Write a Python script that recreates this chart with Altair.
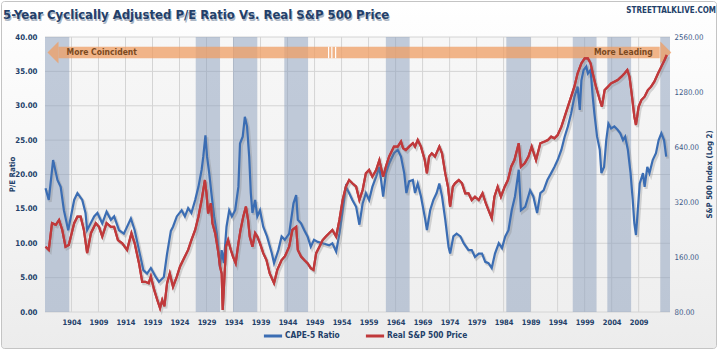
import altair as alt
import pandas as pd

# ---------------- data ----------------
cape_year = [1899.2, 1899.8, 1900.6, 1901.4, 1902.0, 1902.6, 1903.4, 1904.5, 1905.1, 1906.0,
             1906.6, 1906.9, 1908.2, 1908.8, 1909.7, 1910.5, 1911.3, 1911.9, 1912.8, 1913.7,
             1915.0, 1915.7, 1916.5, 1917.3, 1918.0, 1918.7, 1919.6, 1920.2, 1921.1, 1921.7,
             1922.4, 1922.8, 1923.5, 1924.4, 1925.0, 1925.6, 1926.2, 1926.9, 1927.5, 1928.1,
             1928.4, 1928.8, 1929.1, 1929.5, 1929.9, 1930.4, 1930.9, 1931.5, 1931.8, 1932.2,
             1932.7, 1933.2, 1933.7, 1934.3, 1934.9, 1935.2, 1935.7, 1936.1, 1936.5, 1936.9,
             1937.2, 1937.5, 1938.0, 1938.4, 1938.9, 1939.5, 1940.2, 1941.1, 1941.5, 1942.3,
             1942.9, 1943.5, 1944.3, 1945.1, 1945.6, 1945.9, 1946.5, 1947.1, 1947.7, 1948.3,
             1948.9, 1949.6, 1950.5, 1951.7, 1952.3, 1953.0, 1953.6, 1954.2, 1954.8, 1955.4,
             1956.0, 1956.7, 1957.3, 1957.9, 1958.5, 1959.1, 1959.7, 1960.4, 1961.0, 1961.7,
             1962.2, 1962.8, 1963.7, 1964.4, 1965.0, 1965.6, 1966.0, 1966.5, 1967.2, 1967.6,
             1968.1, 1968.7, 1969.5, 1969.8, 1970.4, 1971.0, 1971.6, 1972.1, 1972.6, 1973.2,
             1973.8, 1974.1, 1974.7, 1975.3, 1976.0, 1976.6, 1977.5, 1978.1, 1978.7, 1979.4,
             1980.0, 1980.6, 1981.2, 1981.8, 1982.4, 1983.1, 1983.7, 1984.3, 1984.9, 1985.5,
             1986.1, 1986.8, 1987.2, 1988.0, 1988.9, 1989.5, 1990.2, 1990.8, 1991.4, 1992.1,
             1992.8, 1993.4, 1994.0, 1994.7, 1995.3, 1995.9, 1996.5, 1997.1, 1997.7, 1998.1,
             1998.4, 1998.8, 1999.3, 1999.6, 2000.1, 2000.5, 2000.8, 2001.3, 2001.8, 2002.1,
             2002.6, 2003.0, 2003.4, 2003.9, 2004.5, 2005.1, 2005.6, 2006.1, 2006.5, 2007.0,
             2007.5, 2007.9, 2008.2, 2008.5, 2008.8, 2009.2, 2009.8, 2010.1, 2010.6, 2011.0,
             2011.6, 2012.2, 2012.7, 2013.2, 2013.7, 2014.1]
cape_value = [18.0, 16.3, 22.1, 19.2, 18.2, 14.8, 11.9, 16.3, 17.3, 16.3,
              14.4, 11.9, 13.9, 14.4, 12.9, 14.6, 13.4, 13.9, 11.9, 11.4,
              13.6, 11.9, 9.0, 6.1, 5.6, 6.4, 5.1, 4.4, 5.1, 8.5,
              11.8, 12.4, 13.9, 14.8, 13.9, 15.1, 14.4, 16.3, 18.2, 20.7,
              22.6, 25.7, 22.6, 20.2, 17.3, 13.9, 11.4, 6.5, 9.0, 7.1,
              12.4, 14.8, 13.9, 14.8, 18.2, 24.5, 25.5, 28.4, 27.0, 22.6,
              17.3, 14.4, 16.3, 13.9, 14.8, 12.4, 11.0, 8.5, 7.1, 9.0,
              11.0, 10.5, 11.4, 15.8, 17.0, 13.4, 12.9, 11.9, 11.0, 9.5,
              10.5, 10.2, 10.0, 9.7, 10.0, 8.8, 11.4, 14.8, 18.2, 17.3,
              16.3, 15.3, 12.7, 15.8, 17.3, 16.3, 18.2, 19.7, 21.1, 16.8,
              20.2, 21.6, 23.1, 23.6, 22.6, 20.2, 17.3, 19.0, 19.2, 17.3,
              18.7, 16.8, 13.4, 11.9, 14.8, 16.3, 17.3, 18.7, 16.8, 13.4,
              9.5, 8.5, 11.0, 11.4, 11.0, 10.0, 9.0, 9.0, 8.0, 8.5,
              8.5, 7.3, 7.1, 6.4, 8.5, 10.0, 9.3, 11.0, 11.9, 14.8,
              16.8, 20.7, 14.8, 15.3, 17.7, 16.8, 14.4, 17.3, 17.7, 19.2,
              20.2, 21.1, 22.1, 23.6, 25.5, 27.0, 28.9, 31.3, 32.8, 29.4,
              33.7, 35.2, 35.7, 34.7, 35.2, 31.3, 28.9, 25.5, 23.6, 20.2,
              21.1, 25.0, 27.4, 26.7, 27.0, 26.5, 26.0, 25.0, 25.5, 23.6,
              20.2, 16.3, 12.9, 11.2, 14.4, 18.7, 20.2, 18.2, 21.1, 20.2,
              22.1, 23.1, 25.0, 26.0, 25.0, 22.6]

spx_year = [1899.2, 1899.8, 1900.4, 1901.1, 1901.7, 1902.3, 1902.9, 1903.5, 1904.5, 1905.1,
            1905.7, 1906.3, 1906.9, 1907.6, 1908.5, 1909.1, 1909.7, 1910.5, 1911.3, 1911.9,
            1912.6, 1913.4, 1914.3, 1915.1, 1915.7, 1916.5, 1917.1, 1917.7, 1918.3, 1918.7,
            1919.3, 1919.9, 1920.4, 1920.8, 1921.2, 1921.7, 1922.2, 1922.8, 1923.5, 1924.1,
            1925.0, 1925.6, 1926.2, 1926.9, 1927.5, 1928.1, 1928.7, 1929.0, 1929.3, 1929.8,
            1930.1, 1930.6, 1931.2, 1931.5, 1931.8, 1932.0, 1932.2, 1932.6, 1933.0, 1933.5,
            1933.9, 1934.4, 1934.9, 1935.3, 1935.8, 1936.3, 1936.7, 1937.0, 1937.5, 1938.0,
            1938.4, 1938.9, 1939.5, 1940.1, 1940.7, 1941.5, 1942.1, 1942.9, 1943.5, 1944.3,
            1944.9, 1945.6, 1945.9, 1946.5, 1947.1, 1947.7, 1948.3, 1948.8, 1949.3, 1949.9,
            1950.5, 1951.1, 1951.7, 1952.3, 1953.0, 1953.6, 1954.2, 1954.8, 1955.4, 1956.0,
            1956.7, 1957.3, 1957.9, 1958.5, 1959.1, 1959.7, 1960.4, 1961.0, 1961.7, 1962.2,
            1962.8, 1963.7, 1964.4, 1965.0, 1965.4, 1965.9, 1966.5, 1967.2, 1967.6, 1968.1,
            1968.7, 1969.4, 1969.8, 1970.2, 1970.7, 1971.3, 1972.1, 1972.6, 1973.2, 1973.7,
            1974.1, 1974.6, 1975.0, 1975.7, 1976.3, 1976.9, 1977.5, 1978.1, 1978.7, 1979.4,
            1980.1, 1980.7, 1981.2, 1981.8, 1982.3, 1982.9, 1983.5, 1984.2, 1984.8, 1985.4,
            1986.0, 1986.8, 1987.2, 1987.9, 1988.6, 1989.2, 1990.0, 1990.8, 1991.6, 1992.2,
            1992.8, 1993.4, 1994.0, 1994.7, 1995.3, 1995.9, 1996.5, 1997.1, 1997.7, 1998.4,
            1999.0, 1999.6, 2000.1, 2000.5, 2001.1, 2001.8, 2002.2, 2002.7, 2003.3, 2003.9,
            2004.5, 2005.1, 2005.8, 2006.4, 2006.9, 2007.3, 2007.7, 2008.2, 2008.5, 2009.0,
            2009.5, 2010.1, 2010.7, 2011.3, 2011.9, 2012.6, 2013.2, 2013.8, 2014.2]
spx_value = [182, 175, 245, 240, 255, 225, 182, 186, 245, 266,
             266, 225, 168, 216, 245, 234, 207, 245, 234, 234,
             198, 190, 175, 216, 190, 148, 117, 117, 115, 125,
             106, 93, 84, 93, 86, 115, 130, 110, 125, 142,
             161, 175, 198, 225, 266, 328, 422, 357, 277, 315,
             245, 216, 168, 142, 130, 82, 106, 182, 198, 175,
             161, 148, 190, 225, 266, 302, 255, 207, 182, 216,
             207, 190, 168, 154, 130, 115, 136, 154, 161, 182,
             225, 234, 175, 161, 154, 148, 139, 136, 168, 182,
             198, 207, 216, 225, 207, 255, 328, 388, 422, 405,
             388, 328, 372, 459, 479, 440, 479, 543, 440, 499,
             567, 643, 643, 685, 629, 616, 643, 671, 643, 699,
             643, 543, 459, 567, 591, 567, 643, 591, 459, 388,
             302, 388, 405, 422, 405, 357, 357, 328, 342, 328,
             357, 315, 289, 261, 342, 388, 342, 388, 422, 499,
             543, 671, 499, 521, 567, 643, 543, 671, 685, 699,
             729, 714, 744, 827, 938, 1064, 1207, 1369, 1620, 1837,
             1956, 1956, 1837, 1620, 1369, 1157, 1064, 1312, 1369, 1428,
             1458, 1489, 1553, 1620, 1689, 1553, 1259, 938, 845, 1064,
             1157, 1207, 1312, 1369, 1458, 1620, 1762, 1916, 2041]

band_start = [1899.1, 1927.0, 1933.9, 1943.4, 1962.2, 1984.5, 1996.8, 2003.2, 2013.0]
band_end = [1903.6, 1931.5, 1938.4, 1947.8, 1966.6, 1989.0, 2001.2, 2007.6, 2014.8]

year_ticks = [1904, 1909, 1914, 1919, 1924, 1929, 1934, 1939, 1944, 1949, 1954, 1959,
              1964, 1969, 1974, 1979, 1984, 1989, 1994, 1999, 2004, 2009]
pe_ticks = [0, 5, 10, 15, 20, 25, 30, 35, 40]
price_ticks = [80, 160, 320, 640, 1280, 2560]

series_names = ["CAPE-5 Ratio", "Real S&P 500 Price"]
arrow_labels = ["More Coincident", "More Leading"]
title_text = "5-Year Cyclically Adjusted P/E Ratio Vs. Real S&P 500 Price"
site_text = "STREETTALKLIVE.COM"

# ---------------- styling ----------------
W, H = 625, 275
X_DOMAIN = [1899.1, 2014.8]
BLUE = "#3b6db3"
RED = "#c0393b"
NAVY = "#233f69"
GRID = "#d4d4d4"
BAND = "#8a9dbb"
ORANGE = "#ef9e63"
BROWN = "#7b4a1f"
FONT = "Liberation Sans Narrow, Arial Narrow, DejaVu Sans Condensed, sans-serif"

xs = alt.Scale(domain=X_DOMAIN, nice=False, zero=False)
pes = alt.Scale(domain=[0, 40], nice=False)
pxs = alt.Scale(type="log", base=2, domain=[80, 2560], nice=False)
cs = alt.Scale(domain=series_names, range=[BLUE, RED])


def X(f):
    return alt.X(f, scale=xs)


def Y(f):
    return alt.Y(f, scale=pes)


cape = pd.DataFrame({"year": cape_year, "value": cape_value, "series": series_names[0]})
spx = pd.DataFrame({"year": spx_year, "value": spx_value, "series": series_names[1]})
one = pd.DataFrame({"k": [0]})

frame_fill = alt.Gradient(gradient="linear", x1=0, y1=0, x2=0, y2=1,
                          stops=[alt.GradientStop(color="#ffffff", offset=0),
                                 alt.GradientStop(color="#ececec", offset=1)])
plot_fill = alt.Gradient(gradient="linear", x1=0, y1=0, x2=0, y2=1,
                         stops=[alt.GradientStop(color="#f7f7f7", offset=0),
                                alt.GradientStop(color="#efefef", offset=1)])

AX = dict(labelFont=FONT, ticks=False, domain=False, grid=False, zindex=1, labelOverlap=False)
legend = alt.Legend(orient="none", legendX=217, legendY=288, direction="horizontal", title=None,
                    symbolType="stroke", symbolStrokeWidth=3, symbolSize=330,
                    labelFont=FONT, labelFontSize=8.3, labelFontWeight="bold", labelColor=NAVY,
                    columnPadding=19, labelOffset=1)

# main blue series first so that its axes define the shared axes
blue = alt.Chart(cape).mark_line(strokeWidth=2.2).encode(
    x=alt.X("year:Q", scale=xs, axis=alt.Axis(
        values=year_ticks, tickCount=len(year_ticks) + 5, format="d", labelFontSize=7.5,
        labelFontWeight="bold", labelColor=NAVY, labelPadding=6, labelFlush=False, title=None, **AX)),
    y=alt.Y("value:Q", scale=pes, axis=alt.Axis(
        values=pe_ticks, tickCount=len(pe_ticks) + 5, format=".2f", labelFontSize=7.8,
        labelFontWeight="bold", labelColor=NAVY, labelPadding=8, title="P/E Ratio", titleFont=FONT,
        titleFontSize=7.8, titleFontWeight="bold", titleColor=NAVY, titleAngle=270, titleX=-33,
        titleY=137, titleAlign="center", titleBaseline="middle", **AX)),
    color=alt.Color("series:N", scale=cs, legend=legend))

frame = alt.Chart(one).mark_rect(fill=frame_fill, stroke="#c4c4c4", strokeWidth=1, cornerRadius=3).encode(
    x=alt.value(-43.5), x2=alt.value(671.5), y=alt.value(-35.5), y2=alt.value(311.5))
plotbg = alt.Chart(one).mark_rect(fill=plot_fill).encode(
    x=alt.value(0), x2=alt.value(W), y=alt.value(0), y2=alt.value(H))

xgrid = alt.Chart(pd.DataFrame({"year": year_ticks})).mark_rule(color=GRID, strokeWidth=1).encode(
    x=X("year:Q"))
ygrid = alt.Chart(pd.DataFrame({"pe": pe_ticks})).mark_rule(color=GRID, strokeWidth=1).encode(
    y=Y("pe:Q"))

bands = alt.Chart(pd.DataFrame({"s": band_start, "e": band_end})).mark_rect(
    color=BAND, opacity=0.5).encode(x=X("s:Q"), x2="e:Q")

arrow_body = alt.Chart(pd.DataFrame({"s": [1901.6], "e": [2012.9], "lo": [36.9], "hi": [38.6]})).mark_rect(
    color=ORANGE, opacity=0.75).encode(x=X("s:Q"), x2="e:Q", y=Y("lo:Q"), y2="hi:Q")
head_l = alt.Chart(pd.DataFrame({"year": [1900.58], "pe": [37.75]})).mark_point(
    shape="M -0.5 0 L 0.5 -1 L 0.5 1 Z", size=484, filled=True, color=ORANGE, opacity=0.75,
    strokeWidth=0).encode(x=X("year:Q"), y=Y("pe:Q"))
head_r = alt.Chart(pd.DataFrame({"year": [2014.03], "pe": [37.75]})).mark_point(
    shape="M 0.5 0 L -0.5 -1 L -0.5 1 Z", size=484, filled=True, color=ORANGE, opacity=0.75,
    strokeWidth=0).encode(x=X("year:Q"), y=Y("pe:Q"))
breaks = alt.Chart(pd.DataFrame({"year": [1951.6, 1952.2, 1952.9], "lo": [36.9] * 3, "hi": [38.6] * 3})).mark_rule(
    color="#ffffff", strokeWidth=1.2).encode(x=X("year:Q"), y=Y("lo:Q"), y2="hi:Q")
txt_l = alt.Chart(pd.DataFrame({"year": [1903.1], "pe": [37.75], "t": [arrow_labels[0]]})).mark_text(
    align="left", baseline="middle", font=FONT, fontSize=8.5, fontWeight="bold", color=BROWN).encode(
    x=X("year:Q"), y=Y("pe:Q"), text="t:N")
txt_r = alt.Chart(pd.DataFrame({"year": [2011.6], "pe": [37.75], "t": [arrow_labels[1]]})).mark_text(
    align="right", baseline="middle", font=FONT, fontSize=8.5, fontWeight="bold", color=BROWN).encode(
    x=X("year:Q"), y=Y("pe:Q"), text="t:N")

title_df = pd.DataFrame({"t": [title_text]})
title_shadow = alt.Chart(title_df).mark_text(
    align="left", baseline="alphabetic", font=FONT, fontSize=13, fontWeight="bold", color="#a9b3c2").encode(
    x=alt.value(-41), y=alt.value(-16.5), text="t:N")
title = alt.Chart(title_df).mark_text(
    align="left", baseline="alphabetic", font=FONT, fontSize=13, fontWeight="bold", color=NAVY).encode(
    x=alt.value(-42), y=alt.value(-17.7), text="t:N")
site = alt.Chart(pd.DataFrame({"t": [site_text]})).mark_text(
    align="right", baseline="alphabetic", font=FONT, fontSize=8, fontWeight="bold", color=NAVY).encode(
    x=alt.value(671), y=alt.value(-24.3), text="t:N")

blue_shadow = alt.Chart(cape).mark_line(color="#808080", opacity=0.3, strokeWidth=3, xOffset=1.5, yOffset=2).encode(
    x=X("year:Q"), y=Y("value:Q"))
blue_top = alt.Chart(cape).mark_line(strokeWidth=2.2, color=BLUE).encode(x=X("year:Q"), y=Y("value:Q"))

red = alt.Chart(spx).mark_line(strokeWidth=2.2).encode(
    x=X("year:Q"),
    y=alt.Y("value:Q", scale=pxs, axis=alt.Axis(
        orient="right", values=price_ticks, tickCount=len(price_ticks) + 5, format=".2f",
        labelFontSize=7.8, labelColor="#3d5a88", labelPadding=4, title="S&P 500 Index (Log 2)",
        titleAngle=270, titleFont=FONT, titleFontSize=7.8, titleFontWeight="bold", titleColor=NAVY,
        titleX=39, titleY=137, titleAlign="center", titleBaseline="middle", **AX)),
    color=alt.Color("series:N", scale=cs, legend=legend))
red_shadow = alt.Chart(spx).mark_line(color="#808080", opacity=0.3, strokeWidth=3, xOffset=1.5, yOffset=2).encode(
    x=X("year:Q"), y=alt.Y("value:Q", scale=pxs))
red_top = alt.Chart(spx).mark_line(strokeWidth=2.2, color=RED).encode(x=X("year:Q"), y=alt.Y("value:Q", scale=pxs))

# the first layers (legend/axis holders) are drawn underneath and get covered by the frame
left = alt.layer(blue, frame, plotbg, xgrid, ygrid, bands, arrow_body, head_l, head_r, breaks,
                 txt_l, txt_r, title_shadow, title, site, blue_shadow, blue_top)
right = alt.layer(red, red_shadow, red_top)

chart = alt.layer(left, right).resolve_scale(y="independent").properties(
    width=W, height=H, autosize=alt.AutoSizeParams(type="none"),
    padding={"left": 45, "top": 37, "right": 50, "bottom": 41},
    background="#ffffff").configure_view(stroke=None).configure_axis(labelOverlap=False)

chart.save("out.html", embed_options={"renderer": "svg", "actions": False})
